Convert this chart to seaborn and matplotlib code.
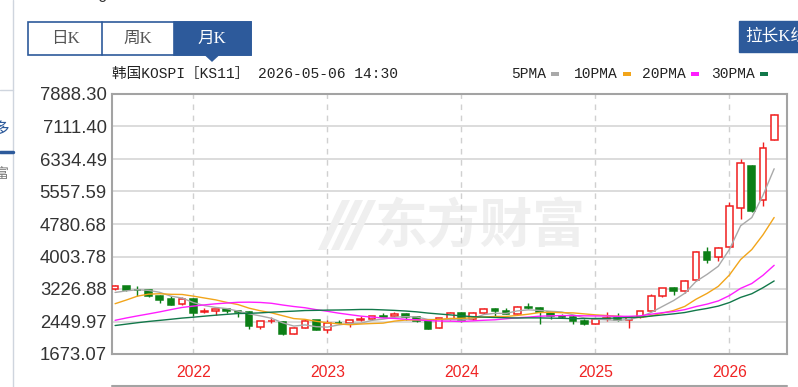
import numpy as np
import pandas as pd
import seaborn as sns
import matplotlib.pyplot as plt
from matplotlib.patches import Rectangle, Polygon

# monthly KOSPI candles, Jun 2021 .. May 2026
open_ = [3221, 3290, 3209, 3207, 3054, 2980, 2860,
         2988, 2675, 2690, 2745, 2687, 2685, 2327, 2450, 2427, 2160, 2300, 2474,
         2249, 2420, 2415, 2480, 2500, 2580, 2570, 2630, 2560, 2460, 2300, 2520,
         2650, 2500, 2650, 2750, 2690, 2640, 2800, 2770, 2680, 2590, 2550, 2460,
         2400, 2500, 2540, 2480, 2560, 2700, 3070, 3240, 3180, 3440, 4120, 3980,
         4238, 5164, 6162, 5347, 6796]
high = [3316, 3305, 3287, 3212, 3091, 3054, 3043,
        3010, 2780, 2760, 2760, 2697, 2701, 2463, 2546, 2461, 2307, 2500, 2490,
        2484, 2480, 2478, 2571, 2585, 2650, 2668, 2650, 2590, 2480, 2535, 2669,
        2680, 2680, 2780, 2770, 2780, 2810, 2896, 2790, 2680, 2630, 2600, 2520,
        2540, 2670, 2650, 2570, 2700, 3100, 3250, 3280, 3450, 4146, 4226, 4230,
        5307, 6337, 6190, 6732, 7406]
low = [3208, 3182, 3060, 3030, 2902, 2839, 2837,
       2591, 2651, 2608, 2661, 2546, 2276, 2276, 2411, 2134, 2155, 2285, 2236,
       2180, 2380, 2330, 2450, 2476, 2550, 2550, 2478, 2430, 2273, 2295, 2490,
       2429, 2490, 2620, 2580, 2620, 2630, 2750, 2386, 2506, 2540, 2400, 2360,
       2390, 2450, 2450, 2284, 2530, 2690, 3040, 3080, 3140, 3420, 3853, 3900,
       4210, 4912, 5060, 5204, 6790]
close = [3296, 3202, 3199, 3068, 2970, 2839, 2977,
         2663, 2699, 2757, 2695, 2685, 2332, 2451, 2472, 2155, 2293, 2472, 2236,
         2425, 2412, 2476, 2501, 2577, 2564, 2632, 2556, 2465, 2277, 2535, 2655,
         2497, 2642, 2747, 2692, 2636, 2798, 2770, 2674, 2593, 2556, 2455, 2399,
         2517, 2532, 2481, 2556, 2697, 3071, 3245, 3186, 3424, 4107, 3926, 4214,
         5205, 6242, 5086, 6589, 7382]
# closes Jan 2019 .. May 2021, only used to warm up the moving averages
prior_close = [2204, 2195, 2141, 2204, 2041, 2130, 2025, 1967, 2063, 2083, 2087, 2198,
               2119, 1987, 1755, 1947, 2030, 2108, 2249, 2326, 2327, 2267, 2591, 2873,
               2976, 3013, 3061, 3147, 3204]

y_ticks = [1673.07, 2449.97, 3226.88, 4003.78, 4780.68, 5557.59, 6334.49, 7111.40, 7888.30]
year_labels = ['2022', '2023', '2024', '2025', '2026']
year_pos = [7, 19, 31, 43, 55]
ma_windows = [5, 10, 20, 30]
ma_names = ['5PMA', '10PMA', '20PMA', '30PMA']
ma_colors = ['#a9a9a9', '#f2a51a', '#ff1eff', '#12784a']

sns.set_theme(style='white')
plt.rcParams['font.family'] = ['Liberation Sans', 'Noto Sans CJK SC']

df = pd.DataFrame({'open': open_, 'high': high, 'low': low, 'close': close})
df['idx'] = np.arange(len(df))
all_close = pd.Series(prior_close + close, dtype=float)
n_prior = len(prior_close)
for w, name in zip(ma_windows, ma_names):
    df[name] = all_close.rolling(w).mean().iloc[n_prior:].to_numpy()

RED = '#f01e1e'
GREEN = '#0c7f16'
BLUE = '#2d5a9b'
WM = '#efefef'
MONO = ['Liberation Mono', 'Noto Sans CJK SC']
CJK = ['Noto Sans CJK SC', 'DejaVu Sans']

fig = plt.figure(figsize=(7.98, 3.87), dpi=100)
ax = fig.add_axes([112.3 / 798, 1 - 354 / 387, (787 - 112.3) / 798, (354 - 94) / 387])

# watermark text (logo strokes are added on the pixel overlay below)
ax.text(0.545, 0.49, '东方财富', transform=ax.transAxes, fontsize=38, fontweight='bold',
        color=WM, ha='center', va='center', family=CJK, zorder=0)

# candles
up = (df['close'] >= df['open']).to_numpy()
body_lo = df[['open', 'close']].min(axis=1)
body_h = (df['close'] - df['open']).abs().clip(lower=14)
ax.vlines(df['idx'], df['low'], df['high'], colors=np.where(up, RED, GREEN), linewidth=1, zorder=2)
ax.bar(df['idx'][up], body_h[up], bottom=body_lo[up], width=0.6,
       facecolor='white', edgecolor=RED, linewidth=1.1, zorder=3)
ax.bar(df['idx'][~up], body_h[~up], bottom=body_lo[~up], width=0.6,
       facecolor=GREEN, edgecolor=GREEN, linewidth=1.1, zorder=3)

# moving averages
for name, c in zip(ma_names, ma_colors):
    sns.lineplot(data=df, x='idx', y=name, color=c, linewidth=1, ax=ax, zorder=4, legend=False)

ax.set_xlim(-0.25, 60.15)
ax.set_ylim(y_ticks[0], y_ticks[-1])
ax.set_yticks(y_ticks)
ax.set_yticklabels([f'{v:.2f}' for v in y_ticks])
ax.set_xticks(year_pos)
ax.set_xticklabels(year_labels)
ax.set_xlabel('')
ax.set_ylabel('')
ax.set_axisbelow(True)
ax.yaxis.grid(True, color='#d9d9d9', linewidth=1.3)
ax.xaxis.grid(True, color='#d0d0d0', linewidth=1, linestyle=(0, (4, 4)))
ax.tick_params(axis='y', length=0, pad=4, labelsize=13.3, labelcolor='#333333')
ax.tick_params(axis='x', length=0, pad=8, labelsize=11.3, labelcolor='#f02424')
for s in ax.spines.values():
    s.set_color('#a3a3a3')
    s.set_linewidth(1.5)

# page decorations in pixel coordinates
ov = fig.add_axes([0, 0, 1, 1])
ov.set_xlim(0, 798)
ov.set_ylim(387, 0)
ov.axis('off')
ov.patch.set_alpha(0)

# watermark logo: a few slanted strokes
for dx in [0, 13, 26]:
    ov.add_patch(Polygon([[318 + dx, 250], [326 + dx, 250], [350 + dx, 200], [342 + dx, 200]],
                         closed=True, facecolor=WM, edgecolor='none', zorder=0))

ov.plot([13, 13], [0, 387], color='#cfd5de', linewidth=1)
ov.plot([0, 13], [90, 90], color='#cfd5de', linewidth=1)
ov.plot([0, 13], [152, 152], color=BLUE, linewidth=2.5)
ov.text(-7, 129, '多', color=BLUE, fontsize=12, ha='left', va='center', family=CJK)
ov.text(-5, 174, '富', color='#777777', fontsize=10, ha='left', va='center', family=CJK)
ov.text(102, -3, '0', color='#333333', fontsize=12, ha='center', va='center')

# tabs
ov.add_patch(Rectangle((28.3, 21.7), 222.4, 33.3, facecolor='white', edgecolor=BLUE, linewidth=1.2))
ov.add_patch(Rectangle((174, 21.7), 76.7, 33.3, facecolor=BLUE, edgecolor=BLUE, linewidth=1.2))
ov.plot([101.7, 101.7], [21.7, 55], color=BLUE, linewidth=1.2)
ov.add_patch(Polygon([[205.5, 55], [218.5, 55], [212, 61]], closed=True, facecolor=BLUE, edgecolor=BLUE))
for tx, lab, col in [(65, '日K', '#555555'), (138, '周K', '#555555'), (212, '月K', 'white')]:
    ov.text(tx, 38.5, lab, color=col, fontsize=12, ha='center', va='center',
            family=['Liberation Serif', 'Noto Sans CJK SC'])

# stretch button, cut by the right edge
ov.add_patch(Rectangle((739, 21), 70, 31, facecolor=BLUE, edgecolor=BLUE))
ov.text(745, 37, '拉长K线', color='white', fontsize=12, ha='left', va='center',
        family=['Liberation Serif', 'Noto Sans CJK SC'])

# title and MA legend
ov.text(112, 74, '韩国KOSPI［KS11］ 2026-05-06 14:30', color='#222222', fontsize=10.5,
        ha='left', va='center', family=MONO)
leg_x = [511, 574, 642, 711]
for lx, name, c in zip(leg_x, ma_names, ma_colors):
    ov.text(lx, 74, name, color='#222222', fontsize=10.5, ha='left', va='center', family=MONO)
    w = 8.75 * len(name)
    ov.add_patch(Rectangle((lx + w + 5, 72), 8, 3.5, facecolor=c, edgecolor='none'))

ov.plot([112.3, 787], [386, 386], color='#a3a3a3', linewidth=1.5)

fig.savefig('out.png', dpi=100)
